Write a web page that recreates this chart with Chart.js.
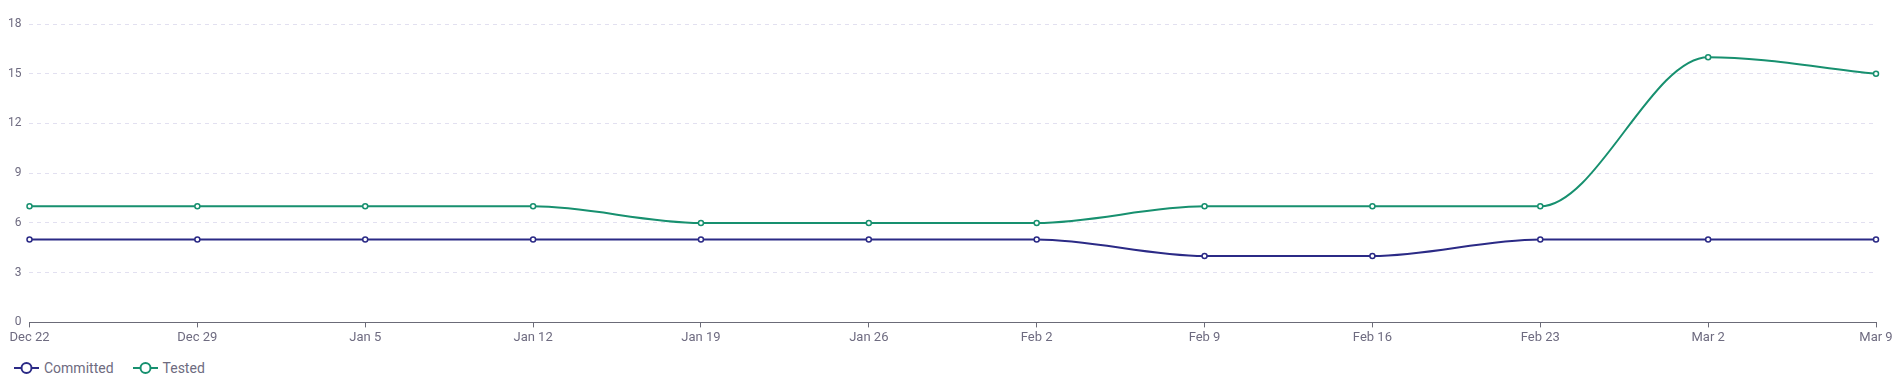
<!DOCTYPE html>
<html>
<head>
<meta charset="utf-8">
<script src="https://cdn.jsdelivr.net/npm/chart.js@4/dist/chart.umd.min.js"></script>
<style>
  html, body { margin: 0; padding: 0; background: #fff; }
  body { width: 1903px; height: 392px; overflow: hidden; font-family: Roboto, sans-serif; }
  #wrap { position: relative; width: 1903px; height: 349px; }
  #legend { display: flex; gap: 19px; padding-left: 14px; margin-top: 11px; }
  .item { display: flex; align-items: center; font-size: 14px; color: #6e6b80; }
  .item canvas { margin-right: 5px; }
</style>
</head>
<body>
<div id="wrap"><canvas id="chart"></canvas></div>
<div id="legend"></div>
<script>
const labels = ["Dec 22", "Dec 29", "Jan 5", "Jan 12", "Jan 19", "Jan 26", "Feb 2", "Feb 9", "Feb 16", "Feb 23", "Mar 2", "Mar 9"];
const committed = [5, 5, 5, 5, 5, 5, 5, 4, 4, 5, 5, 5];
const tested = [7, 7, 7, 7, 6, 6, 6, 7, 7, 7, 16, 15];
const yTicks = [0, 3, 6, 9, 12, 15, 18];

const navy = "#2b2a86";
const teal = "#17906f";
const textGrey = "#6e6b80";

function series(label, data, color) {
  return {
    label: label,
    data: data,
    borderColor: color,
    backgroundColor: "#fff",
    borderWidth: 2,
    pointRadius: 2.5,
    pointBorderWidth: 1.5,
    pointBackgroundColor: "#fff",
    pointBorderColor: color,
    cubicInterpolationMode: "monotone",
    fill: false
  };
}

const chart = new Chart(document.getElementById("chart"), {
  type: "line",
  data: {
    labels: labels,
    datasets: [series("Committed", committed, navy), series("Tested", tested, teal)]
  },
  options: {
    responsive: true,
    maintainAspectRatio: false,
    animation: false,
    layout: { padding: { top: 24, left: 0, right: 27, bottom: 0 } },
    plugins: { legend: { display: false }, tooltip: { enabled: false } },
    scales: {
      x: {
        offset: false,
        grid: { drawOnChartArea: false, drawTicks: true, tickLength: 5, color: "#6b6b78" },
        border: { display: true, color: "#6b6b78", width: 1 },
        ticks: { color: textGrey, font: { family: "Roboto", size: 13 }, maxRotation: 0, autoSkip: false, padding: 3 }
      },
      y: {
        min: 0,
        max: 18,
        afterBuildTicks: axis => { axis.ticks = yTicks.map(v => ({ value: v })); },
        grid: { color: "#e2e0f0", drawTicks: false, lineWidth: 1 },
        border: { display: false, dash: [4, 4] },
        ticks: { color: textGrey, font: { family: "Roboto", size: 12 }, padding: 8 }
      }
    }
  }
});

// html legend: little line with a hollow circle, like the original
const legend = document.getElementById("legend");
chart.data.datasets.forEach(ds => {
  const item = document.createElement("div");
  item.className = "item";
  const c = document.createElement("canvas");
  c.width = 25; c.height = 14;
  const ctx = c.getContext("2d");
  ctx.strokeStyle = ds.borderColor;
  ctx.lineWidth = 2;
  ctx.beginPath(); ctx.moveTo(0, 7); ctx.lineTo(25, 7); ctx.stroke();
  ctx.fillStyle = "#fff";
  ctx.beginPath(); ctx.arc(12.5, 7, 5, 0, Math.PI * 2); ctx.fill(); ctx.stroke();
  item.appendChild(c);
  const span = document.createElement("span");
  span.textContent = ds.label;
  item.appendChild(span);
  legend.appendChild(item);
});
</script>
</body>
</html>
